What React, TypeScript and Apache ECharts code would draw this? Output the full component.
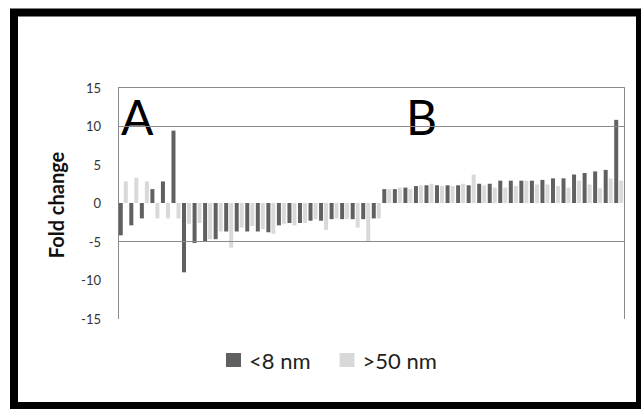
import React, { useEffect, useRef } from "react";
import * as echarts from "echarts";

const categories: string[] = Array.from({ length: 48 }, (_, i) => String(i + 1));

const smallNm: number[] = [
  -4.2, -2.9, -2.0, 1.8, 2.8, 9.4, -9.0, -5.2, -5.0, -4.7, -3.7, -3.7, -3.7, -3.7, -3.8, -2.9,
  -2.6, -2.6, -2.3, -2.3, -2.1, -2.1, -2.1, -2.1, -2.0,
  1.8, 1.8, 2.0, 2.2, 2.3, 2.3, 2.3, 2.3, 2.3, 2.5, 2.5, 2.9, 2.9, 2.9, 2.9, 3.0, 3.2, 3.2,
  3.7, 3.9, 4.1, 4.3, 10.8,
];

const largeNm: number[] = [
  2.8, 3.3, 2.8, -2.0, -2.0, -2.0, -2.7, -2.6, -4.7, -3.7, -5.8, -3.2, -3.0, -3.4, -4.0, -2.7,
  -2.9, -2.6, -2.1, -3.5, -2.0, -2.1, -3.2, -5.0, -2.0,
  1.8, 2.0, 1.8, 2.3, 2.5, 2.2, 2.2, 2.5, 3.7, 2.3, 2.0, 2.0, 2.2, 2.9, 2.4, 2.4, 2.2, 2.0,
  2.9, 2.4, 1.9, 3.2, 2.9,
];

const seriesNames = ["<8 nm", ">50 nm"];
const gridValues = [15, 10, -5];

export default function App() {
  const ref = useRef<HTMLDivElement>(null);
  useEffect(() => {
    if (!ref.current) return;
    const chart = echarts.init(ref.current, undefined, { renderer: "svg" });
    const font = "Lato, 'Open Sans', sans-serif";
    chart.setOption({
      animation: false,
      backgroundColor: "#ffffff",
      textStyle: { fontFamily: font },
      grid: { left: 118, right: 17, top: 87.5, bottom: 90.5, containLabel: false },
      legend: {
        left: 221,
        top: 344,
        itemWidth: 15,
        itemHeight: 14,
        itemGap: 29,
        icon: "rect",
        textStyle: { fontSize: 22, color: "#222", fontFamily: font, padding: [0, 0, 0, 3] },
        data: seriesNames,
      },
      xAxis: {
        type: "category",
        data: categories,
        axisLine: { show: false },
        axisTick: { show: false },
        axisLabel: { show: false },
        splitLine: { show: false },
      },
      yAxis: [
        {
          type: "value",
          min: -15,
          max: 15,
          interval: 5,
          axisLine: { show: true, lineStyle: { color: "#8a8a8a", width: 1 } },
          axisTick: { show: false },
          splitLine: { show: false },
          axisLabel: { fontSize: 13, color: "#333", margin: 17, fontFamily: font },
        },
        {
          type: "value",
          position: "right",
          min: -15,
          max: 15,
          interval: 5,
          axisLine: { show: true, lineStyle: { color: "#8a8a8a", width: 1 } },
          axisTick: { show: false },
          splitLine: { show: false },
          axisLabel: { show: false },
        },
      ],
      series: [
        {
          name: seriesNames[0],
          type: "bar",
          data: smallNm,
          barWidth: 4,
          barGap: "25%",
          itemStyle: { color: "#606060" },
          markLine: {
            silent: true,
            symbol: "none",
            label: { show: false },
            lineStyle: { color: "#8a8a8a", type: "solid", width: 1 },
            data: gridValues.map((v) => ({ yAxis: v })),
          },
        },
        {
          name: seriesNames[1],
          type: "bar",
          data: largeNm,
          barWidth: 4,
          itemStyle: { color: "#d9d9d9" },
        },
      ],
      graphic: [
        {
          type: "rect",
          shape: { x: 14, y: 12.5, width: 626, height: 393.5 },
          style: { fill: "none", stroke: "#000", lineWidth: 8 },
          silent: true,
        },
        {
          type: "text",
          x: 56,
          y: 205,
          rotation: Math.PI / 2,
          style: {
            text: "Fold change",
            font: `bold 20px ${font}`,
            fill: "#111",
            align: "center",
            verticalAlign: "middle",
          },
        },
        {
          type: "text",
          x: 121,
          y: 116,
          style: {
            text: "A",
            font: `48px ${font}`,
            fill: "#000",
            align: "left",
            verticalAlign: "middle",
          },
        },
        {
          type: "text",
          x: 406,
          y: 116,
          style: {
            text: "B",
            font: `48px ${font}`,
            fill: "#000",
            align: "left",
            verticalAlign: "middle",
          },
        },
      ],
    });
    return () => chart.dispose();
  }, []);
  return (
    <div
      ref={ref}
      style={{ position: "fixed", left: 0, top: 0, width: 641, height: 409 }}
    />
  );
}
